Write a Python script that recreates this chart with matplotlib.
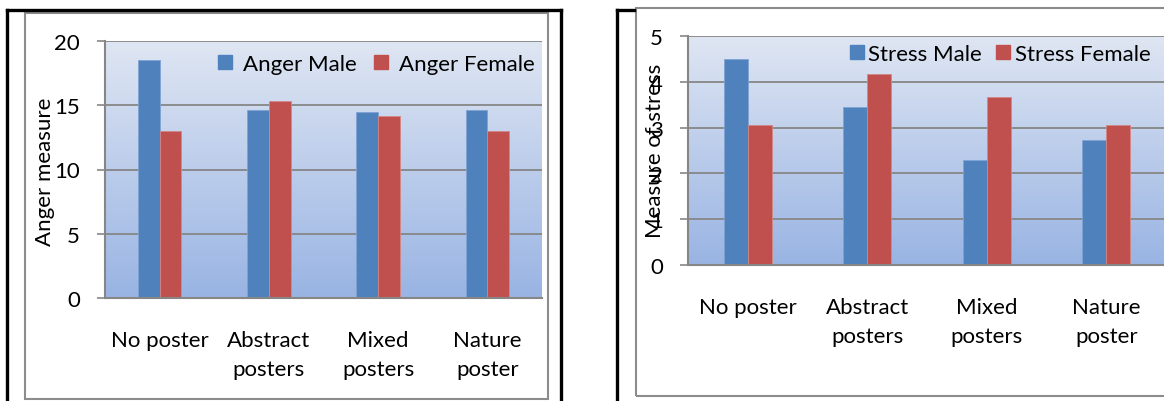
import numpy as np
import matplotlib
matplotlib.use("Agg")
import matplotlib.pyplot as plt
from matplotlib.patches import Rectangle, Patch
from matplotlib.lines import Line2D
from matplotlib.colors import LinearSegmentedColormap

# ---- data ----
categories = ["No poster", "Abstract\nposters", "Mixed\nposters", "Nature\nposter"]
anger_male = [18.5, 14.6, 14.5, 14.6]
anger_female = [13.0, 15.35, 14.2, 13.0]
stress_male = [4.5, 3.44, 2.29, 2.74]
stress_female = [3.05, 4.17, 3.67, 3.06]
anger_ticks = [0, 5, 10, 15, 20]
stress_ticks = [0, 1, 2, 3, 4, 5]

plt.rcParams["font.family"] = ["Lato", "DejaVu Sans"]

W, H = 1164, 402
fig = plt.figure(figsize=(W / 100, H / 100), dpi=100)

BLUE = "#4f81bd"
RED = "#c0504d"
GRID = "#868686"
FS = 16

bg_cmap = LinearSegmentedColormap.from_list("bg", ["#dfe6f3", "#99b4e3"])


def px_rect(l, t, r, b):
    return [l / W, 1 - b / H, (r - l) / W, (b - t) / H]


def fx(x):
    return x / W


def fy(y):
    return 1 - y / H


def draw_panel(box, male, female, ticks, ymax, male_lbl, female_lbl,
               legend_xy, textpad, colspace):
    ax = fig.add_axes(px_rect(*box))
    n = len(categories)
    x = np.arange(n)
    grad = np.linspace(0, 1, 256).reshape(-1, 1)
    ax.imshow(grad, cmap=bg_cmap, extent=[-0.5, n - 0.5, 0, ymax],
              aspect="auto", origin="upper", zorder=0)
    for t in ticks[1:]:
        ax.axhline(t, color=GRID, lw=1.3, zorder=1)
    ax.bar(x - 0.1, male, 0.2, color=BLUE, edgecolor="#7fa3d3", lw=0.6,
           zorder=2, label=male_lbl)
    ax.bar(x + 0.1, female, 0.2, color=RED, edgecolor="#d58684", lw=0.6,
           zorder=2, label=female_lbl)
    ax.set_xlim(-0.5, n - 0.5)
    ax.set_ylim(0, ymax)
    ax.set_yticks(ticks)
    ax.set_xticks(x)
    ax.set_xticklabels(categories, fontsize=FS, linespacing=1.55)
    ax.tick_params(axis="y", length=6, width=1.2, color=GRID, pad=12,
                   labelsize=FS)
    ax.tick_params(axis="x", length=0, pad=23)
    for s in ("top", "right"):
        ax.spines[s].set_visible(False)
    for s in ("left", "bottom"):
        ax.spines[s].set_color(GRID)
        ax.spines[s].set_linewidth(1.5)
        ax.spines[s].set_zorder(3)
    handles = [Patch(color=BLUE, label=male_lbl), Patch(color=RED, label=female_lbl)]
    ax.legend(handles=handles, loc="center left",
              bbox_to_anchor=(fx(legend_xy[0]), fy(legend_xy[1])),
              bbox_transform=fig.transFigure, ncol=2, frameon=False,
              fontsize=FS, handlelength=0.62, handleheight=0.62,
              handletextpad=textpad, columnspacing=colspace, borderpad=0,
              borderaxespad=0)
    return ax


ax1 = draw_panel((105, 42, 542, 299), anger_male, anger_female, anger_ticks, 20,
                 "Anger Male", "Anger Female", (218, 65), 0.5, 0.8)
ax2 = draw_panel((688, 37, 1166, 266), stress_male, stress_female, stress_ticks, 5,
                 "Stress Male", "Stress Female", (850, 55), 0.2, 0.65)

fig.text(fx(45), fy(172), "Anger measure", rotation=90, fontsize=FS,
         ha="center", va="center")
fig.text(fx(655), fy(151), "Measure of stress", rotation=90, fontsize=FS,
         ha="center", va="center")

# chart-area borders
fig.add_artist(Rectangle((fx(25), fy(400)), fx(548 - 25), (400 - 14) / H,
                         transform=fig.transFigure, fill=False,
                         edgecolor="#8c8c8c", lw=1.5, zorder=5))
fig.add_artist(Rectangle((fx(636), fy(397)), fx(1180 - 636), (397 - 9) / H,
                         transform=fig.transFigure, fill=False,
                         edgecolor="#8c8c8c", lw=1.5, zorder=5))

# outer black frames
blk = dict(transform=fig.transFigure, color="black", lw=2.4, zorder=6,
           solid_capstyle="projecting")
fig.add_artist(Line2D([fx(7), fx(7)], [fy(11), fy(410)], **blk))
fig.add_artist(Line2D([fx(7), fx(561)], [fy(11), fy(11)], **blk))
fig.add_artist(Line2D([fx(561), fx(561)], [fy(11), fy(410)], **blk))
fig.add_artist(Line2D([fx(617), fx(617)], [fy(11), fy(410)], **blk))
fig.add_artist(Line2D([fx(617), fx(634)], [fy(11), fy(11)], **blk))

fig.savefig("out.png", dpi=100, facecolor="white")
